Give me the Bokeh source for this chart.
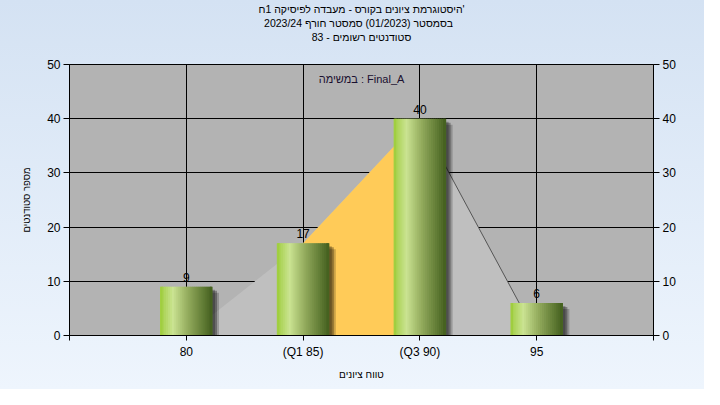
from bokeh.plotting import figure
from bokeh.models import Label, Range1d, FixedTicker, LinearAxis, ColumnDataSource, Title
from bokeh.core.properties import value
from bokeh.embed import file_html
from bokeh.resources import INLINE

# ---- data ----
categories = ["80", "(Q1 85)", "(Q3 90)", "95"]
counts = [9, 17, 40, 6]
area_values = [0, 17, 40, 0]          # light grey distribution area
q1_index, q3_index = 1, 2              # orange band between quartiles
y_ticks = [0, 10, 20, 30, 40, 50]
title_lines = [
    "היסטוגרמת ציונים בקורס - מעבדה לפיסיקה 1ח'",
    "בסמסטר  (01/2023)  סמסטר חורף 2023/24",
    "סטודנטים רשומים - 83",
]
task_label = "במשימה : Final_A"
x_title = "טווח ציונים"
y_title = "מספר סטודנטים"

FONT = "Liberation Sans"
xs = list(range(len(categories)))

p = figure(width=704, height=389, x_range=Range1d(-1, len(categories)),
           y_range=Range1d(0, 50), output_backend="svg", toolbar_location=None,
           min_border_left=69, min_border_right=51, min_border_top=64,
           min_border_bottom=54, title=title_lines[0])
p.border_fill_alpha = 0
p.styles = {"background": "linear-gradient(#d4e2f3, #eef5fd)"}
p.background_fill_color = "#b3b3b3"
p.outline_line_color = "black"
p.outline_line_width = 1

def style_title(t, size="10.5px"):
    t.align = "center"
    t.text_font = FONT
    t.text_font_size = size
    t.text_font_style = "normal"
    t.text_color = "black"
    t.standoff = 0
    t.offset = 0

style_title(p.title)
# added titles stack outward from the frame in the order they are added
spacer = Title(text=" ")
style_title(spacer, "18px")
p.add_layout(spacer, "above")
for line in [title_lines[2], title_lines[1]]:
    t = Title(text=line)
    style_title(t)
    p.add_layout(t, "above")

# grids
p.xgrid.ticker = FixedTicker(ticks=xs)
p.ygrid.ticker = FixedTicker(ticks=y_ticks)
for g in (p.xgrid, p.ygrid):
    g.grid_line_color = "black"
    g.grid_line_width = 1

# light grey area
p.patch(xs + [xs[-1]], area_values + [0], fill_color="#bfbfbf", line_color=None)
# orange quartile band
ox = [xs[q1_index], xs[q1_index], xs[q3_index], xs[q3_index]]
oy = [0, area_values[q1_index], area_values[q3_index], 0]
p.patch(ox, oy, fill_color="#ffcb58", line_color=None)
# dark line on right flank
p.line(xs[q3_index:], area_values[q3_index:], line_color="#555555", line_width=1)

# bar shadows
bw = 0.44
px_x = 584 / 5.0
px_y = 271 / 50.0
for dx, dy, a in [(3, 3, 0.25), (5, 4, 0.3), (7, 6, 0.2)]:
    p.vbar(x=[x + dx / px_x for x in xs], width=bw,
           top=[c - dy / px_y for c in counts], bottom=-2,
           fill_color="black", fill_alpha=a, line_color=None)

# gradient bars (vertical strips)
stops = [(0.0, (160, 206, 64)), (0.25, (202, 227, 146)), (0.55, (146, 170, 92)),
         (1.0, (70, 98, 32))]

def col(t):
    for (t0, c0), (t1, c1) in zip(stops[:-1], stops[1:]):
        if t0 <= t <= t1:
            f = (t - t0) / (t1 - t0)
            r = [round(a + (b - a) * f) for a, b in zip(c0, c1)]
            return "#%02x%02x%02x" % tuple(r)
    return "#%02x%02x%02x" % stops[-1][1]

N = 26
sx, stop_, scol = [], [], []
for x, c in zip(xs, counts):
    for k in range(N):
        t = (k + 0.5) / N
        sx.append(x - bw / 2 + t * bw)
        stop_.append(c)
        scol.append(col(t))
src = ColumnDataSource(dict(x=sx, top=stop_, color=scol))
p.vbar(x="x", top="top", bottom=0, width=bw / N * 1.6, fill_color="color",
       line_color=None, source=src)
p.vbar(x=[x - bw / 2 + bw / N / 2 for x in xs], top=counts, bottom=0, width=bw / N,
       fill_color=col(0.0), line_color=None)
p.vbar(x=[x + bw / 2 - bw / N / 2 for x in xs], top=counts, bottom=0, width=bw / N,
       fill_color=col(1.0), line_color=None)

# value labels
p.text(x=xs, y=counts, text=[str(c) for c in counts], text_align="center",
       text_baseline="bottom", y_offset=-5, text_font=value(FONT),
       text_font_size="12px", text_color="black")

# axes
p.xaxis.ticker = FixedTicker(ticks=[-1] + xs + [len(categories)])
p.xaxis.major_label_overrides = {i: c for i, c in enumerate(categories)} | {-1: "", len(categories): ""}
p.xaxis.major_tick_out = 5
p.xaxis.major_tick_in = 0
p.xaxis.major_label_standoff = 4
p.xaxis.axis_label = x_title
p.xaxis.axis_label_standoff = 7

p.yaxis.ticker = FixedTicker(ticks=y_ticks)
p.yaxis.axis_label = y_title
p.yaxis.axis_label_standoff = 12

right = LinearAxis(ticker=FixedTicker(ticks=y_ticks))
p.add_layout(right, "right")

for ax in p.xaxis + p.yaxis + [right]:
    ax.axis_line_color = "black"
    ax.major_tick_line_color = "black"
    ax.minor_tick_line_color = None
    ax.major_label_text_font = FONT
    ax.major_label_text_font_size = "12px"
    ax.major_label_text_color = "black"
    ax.axis_label_text_font = FONT
    ax.axis_label_text_font_style = "normal"
    ax.axis_label_text_color = "black"
p.yaxis.axis_label_text_font_size = "9.5px"
p.xaxis.axis_label_text_font_size = "10px"
for ax in list(p.yaxis) + [right]:
    ax.major_tick_out = 6
    ax.major_tick_in = 0
    ax.major_label_standoff = 3

p.add_layout(Label(x=1.5, y=47.4, text=task_label, text_align="center",
                   text_baseline="middle", text_font=FONT, text_font_size="11px",
                   text_color="#1a1030"))

open("out.html", "w").write(file_html(p, INLINE))
